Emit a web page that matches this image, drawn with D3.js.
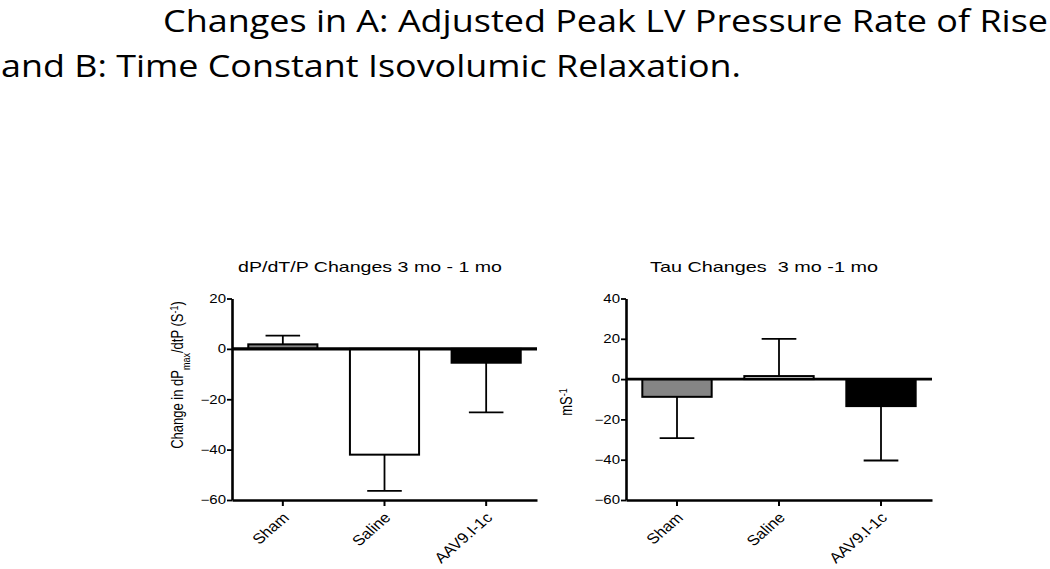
<!DOCTYPE html>
<html>
<head>
<meta charset="utf-8">
<script src="https://cdn.jsdelivr.net/npm/d3@7"></script>
<style>
  body { margin: 0; background: #fff; }
  svg { display: block; }
  .axis path, .axis line { stroke: #000; }
</style>
</head>
<body>
<div id="chart"></div>
<script>
// Data
var categories = ["Sham", "Saline", "AAV9.I-1c"];
var dpdtMean = [1.8, -42, -5.5];
var dpdtErr = [3.5, 14.4, 19.7];
var tauMean = [-8.8, 1.5, -13.4];
var tauErr = [20.5, 18.5, 27];
var dpdtTicks = [20, 0, -20, -40, -60];
var tauTicks = [40, 20, 0, -20, -40, -60];
var barFills = ["#858585", "#ffffff", "#000000"];

var W = 1050, H = 569;
var SX = 1.25; // the original figure is stretched sideways

var svg = d3.select("#chart")
    .append("svg")
    .attr("width", W)
    .attr("height", H);

// Page heading, two lines
var heading = svg.append("g")
    .style("font-family", "'Open Sans', sans-serif")
    .style("font-size", "31px")
    .attr("fill", "#000");

heading.append("text")
    .attr("x", 163).attr("y", 32)
    .attr("textLength", 885)
    .attr("lengthAdjust", "spacingAndGlyphs")
    .text("Changes in A: Adjusted Peak LV Pressure Rate of Rise");

heading.append("text")
    .attr("x", 1).attr("y", 77)
    .attr("textLength", 740)
    .attr("lengthAdjust", "spacingAndGlyphs")
    .text("and B: Time Constant Isovolumic Relaxation.");

function drawPanel(opt) {
    var x = d3.scaleBand()
        .domain(categories)
        .range([opt.left, opt.right])
        .paddingInner(0.32)
        .paddingOuter(0.16);

    var y = d3.scaleLinear()
        .domain(opt.domain)
        .range([500, 298.5]);

    var g = svg.append("g")
        .style("font-family", "'Liberation Sans', Arial, sans-serif");

    //Panel title
    g.append("text")
        .attr("x", opt.titleX)
        .attr("y", 272)
        .attr("text-anchor", "middle")
        .attr("textLength", opt.titleLen)
        .attr("lengthAdjust", "spacingAndGlyphs")
        .style("font-size", "15px")
        .style("white-space", "pre")
        .text(opt.title);

    //Error bars go away from zero, cap is half the bar width
    var errs = g.append("g")
        .attr("stroke", "#000")
        .attr("stroke-width", 1.8)
        .selectAll("g")
        .data(categories)
        .enter().append("g");

    errs.append("line")
        .attr("x1", function (d) { return x(d) + x.bandwidth() / 2; })
        .attr("x2", function (d) { return x(d) + x.bandwidth() / 2; })
        .attr("y1", function (d, i) { return y(opt.mean[i]); })
        .attr("y2", function (d, i) {
            var m = opt.mean[i];
            return y(m >= 0 ? m + opt.err[i] : m - opt.err[i]);
        });

    errs.append("line")
        .attr("x1", function (d) { return x(d) + x.bandwidth() / 4; })
        .attr("x2", function (d) { return x(d) + x.bandwidth() * 3 / 4; })
        .attr("y1", function (d, i) {
            var m = opt.mean[i];
            return y(m >= 0 ? m + opt.err[i] : m - opt.err[i]);
        })
        .attr("y2", function (d, i) {
            var m = opt.mean[i];
            return y(m >= 0 ? m + opt.err[i] : m - opt.err[i]);
        });

    //Bars
    g.append("g")
        .selectAll("rect")
        .data(categories)
        .enter().append("rect")
        .attr("x", function (d) { return x(d); })
        .attr("width", x.bandwidth())
        .attr("y", function (d, i) { return y(Math.max(0, opt.mean[i])); })
        .attr("height", function (d, i) { return Math.abs(y(opt.mean[i]) - y(0)); })
        .attr("fill", function (d, i) { return barFills[i]; })
        .attr("stroke", "#000")
        .attr("stroke-width", 2);

    //Zero line
    g.append("line")
        .attr("x1", opt.left).attr("x2", opt.right)
        .attr("y1", y(0)).attr("y2", y(0))
        .attr("stroke", "#000")
        .attr("stroke-width", opt.zeroWidth);

    //Y axis
    var ya = g.append("g")
        .attr("class", "axis")
        .attr("transform", "translate(" + opt.left + ",0)")
        .call(d3.axisLeft(y).tickValues(opt.ticks).tickSize(5).tickSizeOuter(0));
    ya.select(".domain").attr("stroke-width", 2.6);
    ya.selectAll(".tick line").attr("stroke-width", 1.8);
    ya.selectAll("text")
        .attr("x", -6 / SX)
        .attr("transform", "scale(" + SX + ",1)")
        .style("font-size", "12px")
        .style("font-family", "'Liberation Sans', Arial, sans-serif");

    //X axis with tilted labels
    var xa = g.append("g")
        .attr("class", "axis")
        .attr("transform", "translate(0," + y(opt.domain[0]) + ")")
        .call(d3.axisBottom(x).tickSize(6).tickSizeOuter(0));
    xa.select(".domain").attr("stroke-width", 2.6);
    xa.selectAll(".tick line").attr("stroke-width", 2);
    xa.selectAll("text")
        .attr("x", 0).attr("y", 0).attr("dy", "0.35em")
        .style("text-anchor", "end")
        .style("font-size", "14.5px")
        .style("font-family", "'Liberation Sans', Arial, sans-serif")
        .attr("transform", "translate(3,15) scale(1.15,1) rotate(-45)");

    //Y axis title
    var yl = g.append("text")
        .attr("transform", "translate(" + opt.labelX + "," + opt.labelY + ") scale(1.2,1) rotate(-90)")
        .attr("text-anchor", "middle")
        .style("font-size", "13px");
    opt.label(yl);
}

drawPanel({
    left: 232, right: 537,
    domain: [-60, 20],
    ticks: dpdtTicks,
    mean: dpdtMean, err: dpdtErr,
    title: "dP/dT/P Changes 3 mo - 1 mo",
    titleX: 370, titleLen: 264,
    zeroWidth: 3.4,
    labelX: 183, labelY: 375,
    label: function (t) {
        t.append("tspan").text("Change in dP");
        t.append("tspan").attr("baseline-shift", "sub").style("font-size", "9px").text("max");
        t.append("tspan").text("/dtP (S");
        t.append("tspan").attr("baseline-shift", "super").style("font-size", "9px").text("-1");
        t.append("tspan").text(")");
    }
});

drawPanel({
    left: 626, right: 932,
    domain: [-60, 40],
    ticks: tauTicks,
    mean: tauMean, err: tauErr,
    title: "Tau Changes  3 mo -1 mo",
    titleX: 764, titleLen: 228,
    zeroWidth: 2.6,
    labelX: 572, labelY: 402,
    label: function (t) {
        t.append("tspan").text("mS");
        t.append("tspan").attr("baseline-shift", "super").style("font-size", "9px").text("-1");
    }
});
</script>
</body>
</html>
